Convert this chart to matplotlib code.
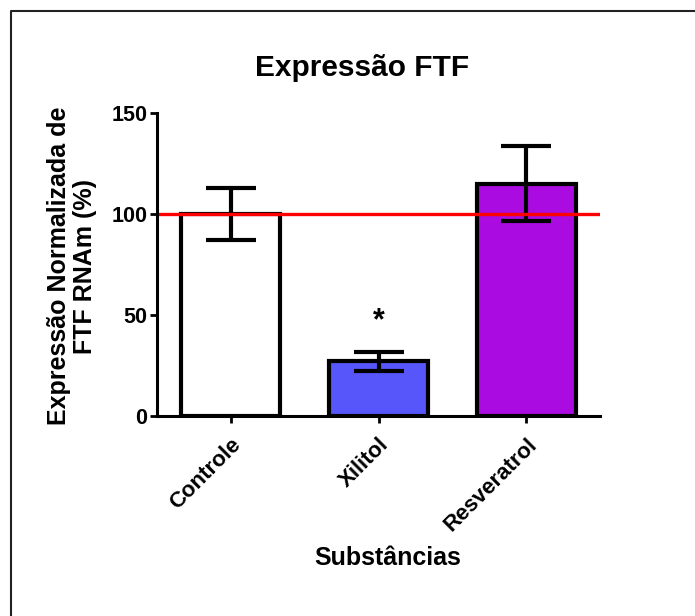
import matplotlib
matplotlib.use("Agg")
import matplotlib.pyplot as plt
from matplotlib.lines import Line2D

plt.rcParams['font.family'] = ['Liberation Sans', 'DejaVu Sans']
plt.rcParams['font.weight'] = 'bold'

categories = ["Controle", "Xilitol", "Resveratrol"]
means = [100, 27, 115]
errors = [13, 4.7, 18.5]
bar_colors = ["#FFFFFF", "#5656FA", "#A90BE0"]
y_ticks = [0, 50, 100, 150]
reference_value = 100
significance = ["", "*", ""]
title = "Expressão FTF"
y_label = "Expressão Normalizada de\nFTF RNAm (%)"
x_label = "Substâncias"

W, H = 695, 616
fig = plt.figure(figsize=(W / 100, H / 100), dpi=100)
ax = fig.add_axes([157 / W, 1 - 416 / H, (600 - 157) / W, (416 - 113) / H])

x = list(range(len(categories)))
ax.bar(x, means, width=0.67, color=bar_colors, edgecolor="black", linewidth=3, zorder=2)
ax.errorbar(x, means, yerr=errors, fmt="none", ecolor="black", elinewidth=3,
            capsize=18, capthick=3, zorder=3)
ax.axhline(reference_value, color="#FF0000", linewidth=2.4, zorder=4)

for xi, m, e, s in zip(x, means, errors, significance):
    if s:
        ax.text(xi, 43, s, ha="center", va="baseline", fontsize=22, fontweight="bold")

ax.set_xlim(-0.5, 2.5)
ax.set_ylim(0, 150)
ax.set_yticks(y_ticks)
ax.set_yticklabels([str(v) for v in y_ticks], fontsize=15.5, fontweight="bold")
ax.set_xticks(x)
ax.set_xticklabels(categories, rotation=45, ha="right", va="top",
                   rotation_mode="anchor", fontsize=16, fontweight="bold")

for side in ["top", "right"]:
    ax.spines[side].set_visible(False)
for side in ["left", "bottom"]:
    ax.spines[side].set_linewidth(2.2)
    ax.spines[side].set_zorder(5)
ax.tick_params(axis="both", direction="out", length=5, width=2, colors="black")
ax.tick_params(axis="y", pad=2)
ax.tick_params(axis="x", pad=8)

fig.text(362 / W, 1 - 68 / H, title, ha="center", va="center", fontsize=21.5, fontweight="bold")
fig.text(72 / W, 1 - 266 / H, y_label, ha="center", va="center", rotation=90,
         fontsize=18, fontweight="bold", linespacing=1.1)
fig.text(388 / W, 1 - 558 / H, x_label, ha="center", va="center", fontsize=18, fontweight="bold")

# outer frame (left and top edges visible)
fx = 11 / W
fy = 1 - 11 / H
fig.add_artist(Line2D([fx, fx, 1.0], [0.0, fy, fy], transform=fig.transFigure,
                      color="#222222", linewidth=1.5))

fig.savefig("out.png", dpi=100)
